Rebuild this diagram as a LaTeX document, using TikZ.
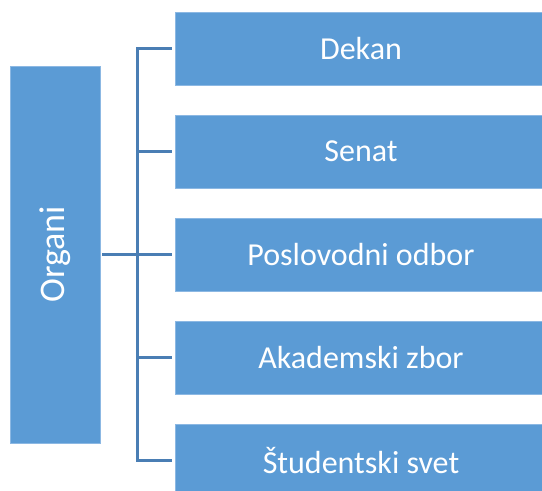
\documentclass[tikz,border=0pt]{standalone}
\usepackage{fontspec}
\setmainfont{Carlito}
\usetikzlibrary{calc}
\definecolor{boxblue}{HTML}{5B9BD5}
\definecolor{boxedge}{HTML}{8CB8E3}
\definecolor{linkblue}{HTML}{4A7EB4}
\begin{document}
\begin{tikzpicture}[x=1pt,y=-1pt,
  box/.style={fill=boxblue, draw=boxedge, line width=0.8pt, text=white,
    font=\fontsize{32}{38}\selectfont, inner sep=0pt},
  conn/.style={draw=linkblue, line width=3pt}]
\path[use as bounding box, clip] (0,0) rectangle (542,491);
\node[box, rotate=90, minimum width=377pt, minimum height=90pt, font=\fontsize{36}{42}\selectfont] (org) at (55,254.5) {Organi};
\node[box, minimum width=372pt, minimum height=73pt] (dek) at (361,48.5) {Dekan};
\node[box, minimum width=372pt, minimum height=73pt] (sen) at (361,151.5) {Senat};
\node[box, minimum width=372pt, minimum height=73pt] (pos) at (361,254.5) {Poslovodni odbor};
\node[box, minimum width=372pt, minimum height=73pt] (aka) at (361,357.5) {Akademski zbor};
\node[box, minimum width=372pt, minimum height=73pt] (stu) at (361,460.5) {Študentski svet};
\coordinate (bus) at (137,0);
\draw[conn] ([xshift=-3pt]dek.west) -- (bus |- dek.west) -- (bus |- stu.west) -- ([xshift=-3pt]stu.west);
\draw[conn] (bus |- sen.west) -- ([xshift=-3pt]sen.west);
\draw[conn] (bus |- aka.west) -- ([xshift=-3pt]aka.west);
\draw[conn] ([xshift=2pt]org.south) -- ([xshift=-3pt]pos.west);
\end{tikzpicture}
\end{document}
